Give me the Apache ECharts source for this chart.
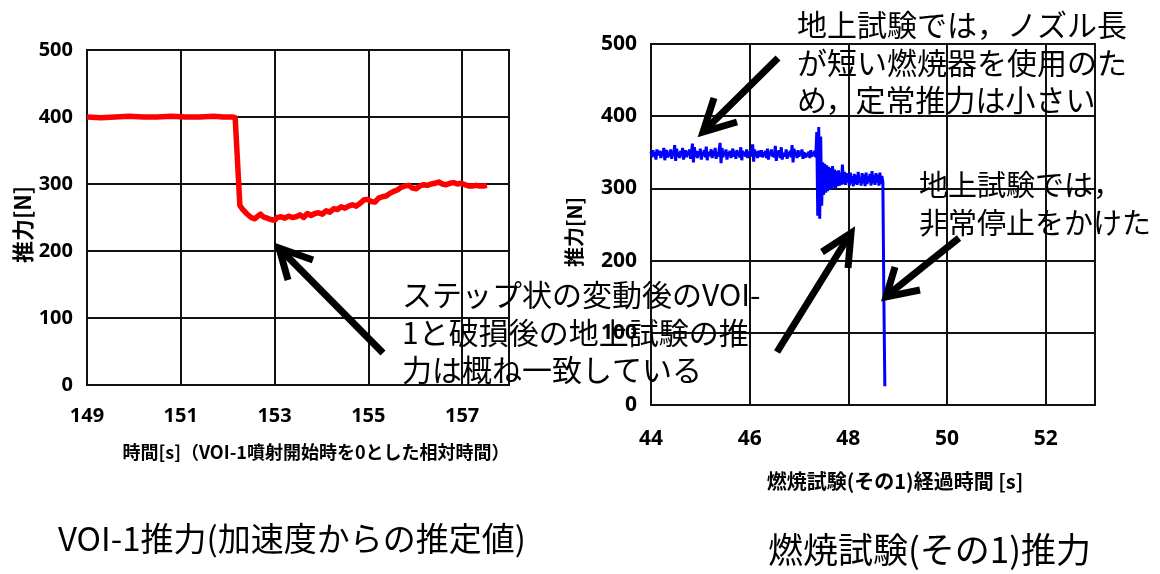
<!DOCTYPE html>
<html>
<head>
<meta charset="utf-8">
<script src="https://cdn.jsdelivr.net/npm/echarts@6/dist/echarts.min.js"></script>
<style>
html,body{margin:0;padding:0;background:#fff;}
#c{width:1160px;height:574px;}
</style>
</head>
<body>
<div id="c"></div>
<script>
// ---- Left chart: VOI-1 thrust (estimated from acceleration) ----
const voiTime = [149.00,149.30,149.60,149.90,150.20,150.50,150.80,151.10,151.40,151.70,151.90,152.10,152.16,152.26,152.32,152.40,152.50,152.58,152.64,152.70,152.76,152.84,152.92,153.00,153.06,153.14,153.22,153.30,153.38,153.46,153.54,153.62,153.70,153.78,153.86,153.94,154.02,154.10,154.18,154.26,154.34,154.42,154.50,154.58,154.66,154.74,154.82,154.90,154.98,155.06,155.14,155.22,155.30,155.38,155.46,155.54,155.62,155.70,155.78,155.86,155.94,156.02,156.10,156.18,156.26,156.34,156.42,156.50,156.58,156.66,156.74,156.82,156.90,156.98,157.06,157.14,157.22,157.30,157.38,157.46,157.53];
const voiThrust = [400,399,400,401,400,400,401,400,400,401,400,400,399,268,262,256,250,248,252,255,251,249,247,246,250,251,249,252,250,251,254,250,256,253,256,257,255,260,258,263,262,266,264,267,269,267,271,276,277,274,273,279,281,282,286,289,291,295,297,298,294,293,297,299,298,300,301,303,300,299,301,302,300,301,299,297,297,298,297,297,298];
const voiTimeTicks = [149,151,153,155,157];

// ---- Right chart: combustion test (No.1) thrust, sampled every 0.02 s from 44 s ----
const testTimeStart = 44.00;
const testTimeStep = 0.02;
const testThrust = [
 351,343,353,345,350,340,354,346,344,352,
 342,351,345,356,339,350,353,343,349,345,
 354,341,351,346,360,338,355,344,350,342,
 352,345,356,340,349,353,343,351,346,354,
 341,350,362,336,357,344,352,342,351,345,
 355,340,350,346,353,343,358,339,351,345,
 349,354,342,352,345,356,341,350,344,353,
 363,335,356,343,351,346,354,340,350,345,
 352,342,349,355,344,351,341,353,346,350,
 343,357,339,352,346,350,344,354,342,351,
 346,353,344,361,337,354,345,351,342,352,
 349,344,353,343,350,345,352,342,355,340,
 351,346,354,344,350,343,359,338,352,345,
 353,342,357,340,349,351,344,354,341,350,
 345,352,343,360,336,355,346,350,342,353,
 344,351,346,354,341,350,352,343,349,345,
 351,342,353,344,350,346,352,343,
 378,262,385,258,372,276,
 336,291,334,294,332,296,330,298,328,300,331,301,326,300,324,303,325,304,322,305,333,306,323,305,321,
 308,319,304,322,307,317,303,320,306,318,305,323,308,316,304,321,307,319,303,322,306,317,309,320,304,324,307,318,305,321,308,319,304,322,306,317,309,
 150,26
];
const testTimeTicks = [44,46,48,50,52];
const thrustTicks = [0,100,200,300,400,500];

const testData = testThrust.map((v, i) => [Math.round((testTimeStart + i * testTimeStep) * 100) / 100, v]);
const voiData = voiTime.map((t, i) => [t, voiThrust[i]]);

const tickFont = {fontFamily: '"Noto Sans ExtraCondensed","Noto Sans Condensed","Liberation Sans Narrow","Noto Sans",sans-serif', fontWeight: 'bold', color: '#000'};
const cjk = '"Noto Sans CJK JP",sans-serif';
const gridLine = {show: true, lineStyle: {color: '#111', width: 2}};

function xAxis(gridIndex, min, max, ticks, name, gap, pad, fs, lfs, lmargin) {
  return {
    type: 'value', gridIndex, min, max,
    axisLine: {show: true, lineStyle: {color: '#111', width: 2}},
    axisTick: {show: false, customValues: ticks},
    axisLabel: Object.assign({customValues: ticks, fontSize: lfs, margin: lmargin}, tickFont),
    splitLine: gridLine,
    name, nameLocation: 'middle', nameGap: gap,
    nameTextStyle: {fontFamily: cjk, fontWeight: 'bold', fontSize: fs, color: '#000', padding: pad}
  };
}
function yAxis(gridIndex, name, gap, pad, fs, lfs) {
  return {
    type: 'value', gridIndex, min: 0, max: 500,
    axisLine: {show: true, lineStyle: {color: '#111', width: 2}},
    axisTick: {show: false, customValues: thrustTicks},
    axisLabel: Object.assign({customValues: thrustTicks, fontSize: lfs, margin: 14}, tickFont),
    splitLine: gridLine,
    name, nameLocation: 'middle', nameGap: gap, nameRotate: 90,
    nameTextStyle: {fontFamily: cjk, fontWeight: 'bold', fontSize: fs, color: '#000', padding: pad}
  };
}

function arrow(shaft, head) {
  return [
    {type: 'polyline', z: 100, shape: {points: shaft}, style: {stroke: '#000', lineWidth: 7, fill: null}},
    {type: 'polyline', z: 100, shape: {points: head}, style: {stroke: '#000', lineWidth: 7, fill: null, lineJoin: 'miter'}}
  ];
}
function note(x, y, text, fs, lh) {
  return {type: 'text', z: 101, x, y, style: {text, fontFamily: cjk, fontSize: fs, lineHeight: lh, fill: '#000', verticalAlign: 'top'}};
}

const chart = echarts.init(document.getElementById('c'), null, {renderer: 'canvas'});
chart.setOption({
  animation: false,
  backgroundColor: '#fff',
  title: [
    {text: 'VOI-1推力(加速度からの推定値)', left: 58, top: 522, padding: 0,
     textStyle: {fontFamily: cjk, fontSize: 33, fontWeight: 'normal', color: '#000'}},
    {text: '燃焼試験(その1)推力', left: 768, top: 532, padding: 0,
     textStyle: {fontFamily: cjk, fontSize: 35, fontWeight: 'normal', color: '#000'}}
  ],
  grid: [
    {left: 87, top: 50, width: 422, height: 335, show: true, borderColor: '#111', borderWidth: 2},
    {left: 651, top: 44, width: 444, height: 361, show: true, borderColor: '#111', borderWidth: 2}
  ],
  xAxis: [
    xAxis(0, 149, 158, voiTimeTicks, '時間[s]（VOI-1噴射開始時を0とした相対時間）', 58, [0, 0, 0, 36], 18, 20, 21),
    xAxis(1, 44, 53, testTimeTicks, '燃焼試験(その1)経過時間 [s]', 66, [0, 0, 0, 44], 20, 21, 24)
  ],
  yAxis: [
    yAxis(0, '推力[N]', 53, [0, 14, 0, 0], 22, 20),
    yAxis(1, '推力[N]', 67, [0, 15, 0, 0], 20, 21)
  ],
  series: [
    {type: 'line', xAxisIndex: 0, yAxisIndex: 0, data: voiData, showSymbol: false, symbol: 'none',
     lineStyle: {color: '#ff0000', width: 5.5, join: 'round'}, itemStyle: {color: '#ff0000'}},
    {type: 'line', xAxisIndex: 1, yAxisIndex: 1, data: testData, showSymbol: false, symbol: 'none', sampling: null,
     lineStyle: {color: '#0000ff', width: 3}, itemStyle: {color: '#0000ff'}}
  ],
  graphic: [].concat(
    arrow([[383, 353], [282, 251]], [[313, 260], [279, 248], [288, 280]]),
    arrow([[778, 58], [706, 129]], [[714, 98], [703, 132], [737, 122]]),
    arrow([[777, 352], [849, 236]], [[822, 252], [851, 233], [848, 268]]),
    arrow([[959, 238], [889, 294]], [[895, 267], [886, 297], [920, 290]]),
    [
      note(797, 6, '地上試験では，ノズル長\nが短い燃焼器を使用のた\nめ，定常推力は小さい', 30, 37.5),
      note(919, 166, '地上試験では，\n非常停止をかけた', 29, 38),
      note(402, 276, 'ステップ状の変動後のVOI-\n1と破損後の地上試験の推\n力は概ね一致している', 30, 37.5)
    ]
  )
});
</script>
</body>
</html>
